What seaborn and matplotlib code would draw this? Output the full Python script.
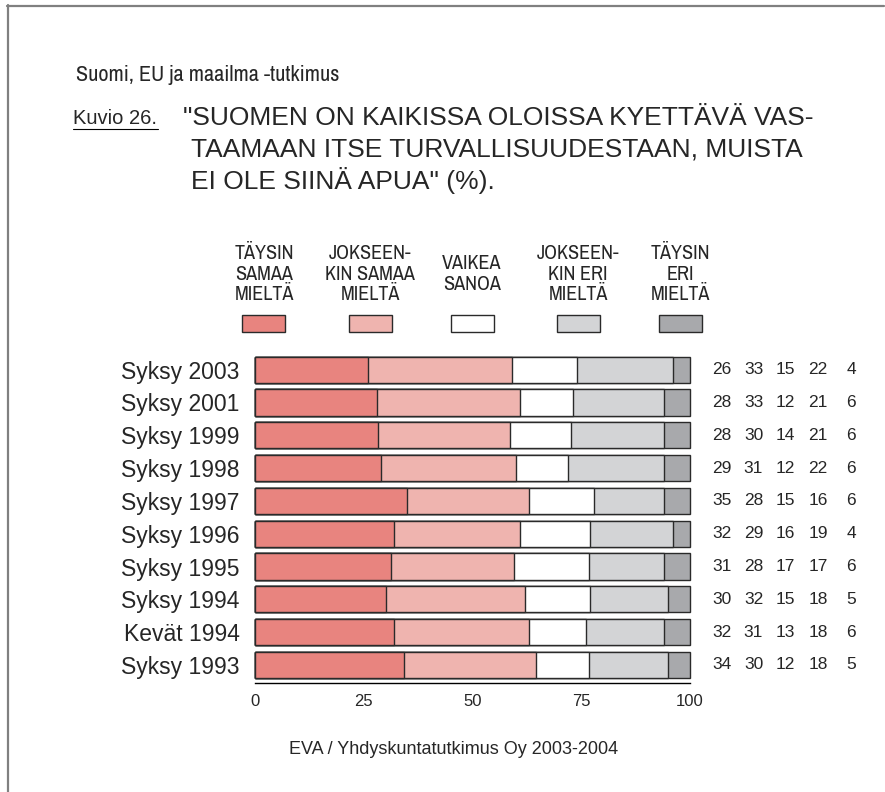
import numpy as np
import pandas as pd
import seaborn as sns
import matplotlib
matplotlib.use("Agg")
import matplotlib.pyplot as plt
from matplotlib.lines import Line2D
from matplotlib.patches import Rectangle

# ---- data ----
categories = ["Syksy 2003", "Syksy 2001", "Syksy 1999", "Syksy 1998", "Syksy 1997",
              "Syksy 1996", "Syksy 1995", "Syksy 1994", "Kevät 1994", "Syksy 1993"]
taysin_samaa = [26, 28, 28, 29, 35, 32, 31, 30, 32, 34]
jokseenkin_samaa = [33, 33, 30, 31, 28, 29, 28, 32, 31, 30]
vaikea_sanoa = [15, 12, 14, 12, 15, 16, 17, 15, 13, 12]
jokseenkin_eri = [22, 21, 21, 22, 16, 19, 17, 18, 18, 18]
taysin_eri = [4, 6, 6, 6, 6, 4, 6, 5, 6, 5]
series_labels = ["TÄYSIN\nSAMAA\nMIELTÄ", "JOKSEEN-\nKIN SAMAA\nMIELTÄ", "VAIKEA\nSANOA",
                 "JOKSEEN-\nKIN ERI\nMIELTÄ", "TÄYSIN\nERI\nMIELTÄ"]
xticks = [0, 25, 50, 75, 100]

colors = ["#E8847F", "#EFB4AF", "#FFFFFF", "#D3D4D6", "#A8A9AC"]
edge = "#2a2a2a"

W, H = 885, 792
fig = plt.figure(figsize=(W / 100, H / 100), dpi=100)
fig.patch.set_facecolor("white")
sns.set_style("white")
plt.rcParams["font.family"] = ["Liberation Sans", "DejaVu Sans"]
NARROW = ["Archivo Narrow", "Liberation Sans", "DejaVu Sans"]

def fx(px):
    return px / W

def fy(py):
    return 1 - py / H

ax = fig.add_axes([fx(255), fy(683), fx(690) - fx(255), (683 - 350) / H])

series = [taysin_samaa, jokseenkin_samaa, vaikea_sanoa, jokseenkin_eri, taysin_eri]
vals = np.array(series, dtype=float).T  # rows = categories
pct = vals / vals.sum(axis=1, keepdims=True) * 100
cum = np.cumsum(pct, axis=1)

df = pd.DataFrame({"cat": categories})
for j in range(4, -1, -1):
    df["v"] = cum[:, j]
    sns.barplot(data=df, x="v", y="cat", orient="h", color=colors[j], saturation=1,
                edgecolor=edge, linewidth=1.0, width=0.8, ax=ax, errorbar=None)
for p in ax.patches:
    p.set_clip_on(False)

ax.set_xlim(0, 100)
ax.set_ylim(9.55, -0.6)
ax.set_xticks(xticks)
ax.set_xticklabels([str(t) for t in xticks], fontsize=12)
ax.set_xlabel("")
ax.set_ylabel("")
ax.tick_params(axis="y", length=0, pad=11, labelsize=16.5)
ax.tick_params(axis="x", length=5, width=1, direction="out", pad=3, color="black")
for s in ["top", "right", "left"]:
    ax.spines[s].set_visible(False)
ax.spines["bottom"].set_linewidth(1)
ax.spines["bottom"].set_color("black")
ax.set_facecolor("white")

# right-hand value columns
col_x = [107.3, 114.6, 121.9, 129.4, 137.1]
for i in range(len(categories)):
    for j in range(5):
        ax.text(col_x[j], i, f"{int(vals[i, j])}", ha="center", va="center",
                fontsize=12.5, clip_on=False)

# legend
leg_x = [264, 370, 472, 578, 680]
for j in range(5):
    fig.text(fx(leg_x[j]), fy(274), series_labels[j], ha="center", va="center",
             fontsize=14.5, family=NARROW, linespacing=1.12)
    fig.add_artist(Rectangle((fx(leg_x[j] - 21.5), fy(332)), 43 / W, 17 / H,
                             transform=fig.transFigure, facecolor=colors[j],
                             edgecolor=edge, linewidth=1))

# header texts
fig.text(fx(76), fy(75), "Suomi, EU ja maailma -tutkimus", ha="left", va="center",
         fontsize=16, family=NARROW)
fig.text(fx(73), fy(119), "Kuvio 26.", ha="left", va="center", fontsize=14.5)
fig.add_artist(Line2D([fx(73), fx(158)], [fy(129), fy(129)], transform=fig.transFigure,
                      color="black", linewidth=0.8))
fig.text(fx(183), fy(118), "\"SUOMEN ON KAIKISSA OLOISSA KYETTÄVÄ VAS-", ha="left",
         va="center", fontsize=19)
fig.text(fx(191), fy(149), "TAAMAAN ITSE TURVALLISUUDESTAAN, MUISTA", ha="left",
         va="center", fontsize=19)
fig.text(fx(191), fy(180), "EI OLE SIINÄ APUA\" (%).", ha="left",
         va="center", fontsize=19)

fig.text(fx(454), fy(749), "EVA / Yhdyskuntatutkimus Oy 2003-2004", ha="center",
         va="center", fontsize=13)

# frame
fig.add_artist(Line2D([fx(7), fx(884)], [fy(5.5), fy(5.5)], transform=fig.transFigure,
                      color="#808080", linewidth=1.6))
fig.add_artist(Line2D([fx(7.5), fx(7.5)], [fy(5), fy(792)], transform=fig.transFigure,
                      color="#808080", linewidth=1.6))

fig.savefig("out.png", dpi=100, facecolor="white")
